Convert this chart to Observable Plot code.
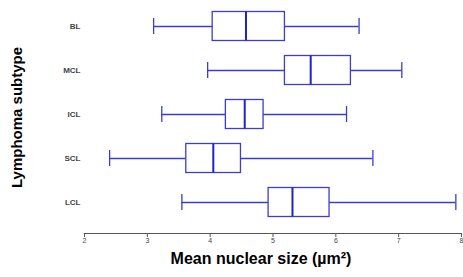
<!DOCTYPE html>
<html><head><meta charset="utf-8">
<script src="https://cdn.jsdelivr.net/npm/d3@7"></script>
<script src="https://cdn.jsdelivr.net/npm/@observablehq/plot@0.6"></script>
<style>body{margin:0;background:#fff;font-family:"Liberation Sans",Arial,sans-serif}</style>
</head><body><div id="chart"></div>
<script>
const subtypes = ["BL", "MCL", "ICL", "SCL", "LCL"];
const mins    = [3.10, 3.96, 3.23, 2.40, 3.55];
const q1s     = [4.04, 5.19, 4.25, 3.62, 4.93];
const medians = [4.57, 5.60, 4.55, 4.05, 5.31];
const q3s     = [5.19, 6.24, 4.85, 4.49, 5.90];
const maxs    = [6.37, 7.05, 6.17, 6.59, 7.91];
const xTicks  = [2, 3, 4, 5, 6, 7, 8];

const data = subtypes.map((s, i) => ({s, min: mins[i], q1: q1s[i], med: medians[i], q3: q3s[i], max: maxs[i]}));
const blue = "#3c3cd4";

const chart = Plot.plot({
  width: 463, height: 277,
  marginLeft: 84, marginRight: 2, marginTop: 3, marginBottom: 44,
  insetBottom: 8,
  style: {fontFamily: "'Liberation Sans', Arial, sans-serif", background: "#fff"},
  x: {domain: [2, 8], ticks: xTicks, label: null},
  y: {domain: subtypes, label: null, padding: 0},
  marks: [
    Plot.frame({anchor: "bottom", stroke: "#555", strokeWidth: 1.2}),
    Plot.axisX({ticks: xTicks, tickFormat: "d", tickSize: 4, tickPadding: 1, fontSize: 7, stroke: "#555", fill: "#444", label: null}),
    Plot.axisY({tickSize: 0, tickPadding: 4, fontSize: 8, fontWeight: "bold", fill: "#444", label: null}),
    Plot.ruleY(data, {y: "s", x1: "min", x2: "q1", stroke: blue, strokeWidth: 1.3}),
    Plot.ruleY(data, {y: "s", x1: "q3", x2: "max", stroke: blue, strokeWidth: 1.3}),
    Plot.tickX(data, {y: "s", x: "min", stroke: blue, strokeWidth: 1.3, insetTop: 14, insetBottom: 14}),
    Plot.tickX(data, {y: "s", x: "max", stroke: blue, strokeWidth: 1.3, insetTop: 14, insetBottom: 14}),
    Plot.barX(data, {y: "s", x1: "q1", x2: "q3", fill: "white", stroke: blue, strokeWidth: 1.3, insetTop: 7.5, insetBottom: 7.5}),
    Plot.tickX(data, {y: "s", x: "med", stroke: "#2222cc", strokeWidth: 2, insetTop: 7.5, insetBottom: 7.5}),
    Plot.text(["Lymphoma subtype"], {frameAnchor: "left", textAnchor: "middle", dx: -67, dy: -1, rotate: -90, fontSize: 15, fontWeight: "bold", fill: "#000"}),
    Plot.text(["Mean nuclear size (µm²)"], {frameAnchor: "bottom", textAnchor: "middle", dx: -12, dy: 30, fontSize: 16, fontWeight: "bold", fill: "#000"})
  ]
});
document.getElementById("chart").appendChild(chart);
</script></body></html>
